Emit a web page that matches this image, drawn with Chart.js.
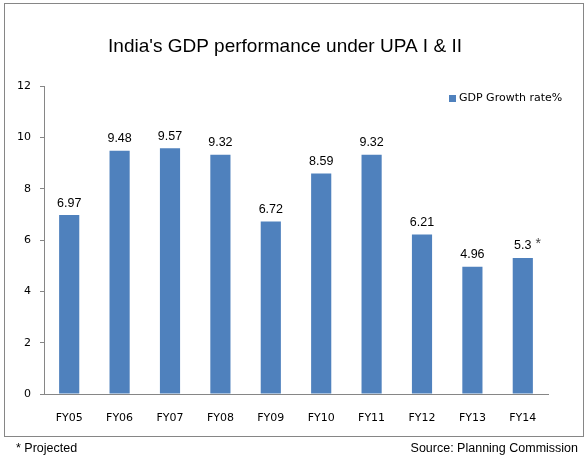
<!DOCTYPE html>
<html>
<head>
<meta charset="utf-8">
<script src="https://cdn.jsdelivr.net/npm/chart.js@4"></script>
<style>
  html, body { margin: 0; padding: 0; background: #fff; }
  #wrap { width: 588px; height: 469px; position: relative; }
</style>
</head>
<body>
<div id="wrap"><canvas id="c" width="588" height="469"></canvas></div>
<script>
const categories = ['FY05', 'FY06', 'FY07', 'FY08', 'FY09', 'FY10', 'FY11', 'FY12', 'FY13', 'FY14'];
const growthRate = [6.97, 9.48, 9.57, 9.32, 6.72, 8.59, 9.32, 6.21, 4.96, 5.3];
const valueNotes = ['', '', '', '', '', '', '', '', '', '*'];
const yTicks = [0, 2, 4, 6, 8, 10, 12];
const seriesLabel = 'GDP Growth rate%';
const titleText = "India's GDP performance under UPA I & II";
const footLeft = '* Projected';
const footRight = 'Source: Planning Commission';

const BAR = '#4F81BD';
const AXIS = '#868686';

const decorPlugin = {
  id: 'decor',
  beforeDraw(chart) {
    const ctx = chart.ctx;
    ctx.save();
    ctx.fillStyle = '#fff';
    ctx.fillRect(0, 0, chart.width, chart.height);
    ctx.strokeStyle = AXIS;
    ctx.lineWidth = 1;
    ctx.strokeRect(4.5, 3.5, 579, 433);
    ctx.restore();
  },
  afterDraw(chart) {
    const ctx = chart.ctx;
    ctx.save();
    // title
    ctx.fillStyle = '#000';
    ctx.font = '19px "Liberation Sans", Arial, sans-serif';
    ctx.textAlign = 'center';
    ctx.textBaseline = 'alphabetic';
    ctx.fillText(titleText, 285, 52);
    // legend
    const ds = chart.data.datasets[0];
    ctx.fillStyle = ds.backgroundColor;
    ctx.fillRect(449, 95, 7, 7);
    ctx.fillStyle = '#000';
    ctx.font = '11px "DejaVu Sans", sans-serif';
    ctx.textAlign = 'left';
    ctx.textBaseline = 'middle';
    ctx.fillText(ds.label, 459, 98.5);
    // footer
    ctx.font = '12.5px "Liberation Sans", Arial, sans-serif';
    ctx.textBaseline = 'middle';
    ctx.textAlign = 'left';
    ctx.fillText(footLeft, 16, 449);
    ctx.textAlign = 'right';
    ctx.fillText(footRight, 578, 449);
    ctx.restore();
  },
  afterDatasetsDraw(chart) {
    const ctx = chart.ctx;
    const meta = chart.getDatasetMeta(0);
    const data = chart.data.datasets[0].data;
    ctx.save();
    ctx.font = '12.5px "Liberation Sans", Arial, sans-serif';
    ctx.textBaseline = 'alphabetic';
    meta.data.forEach((bar, i) => {
      const txt = String(data[i]);
      ctx.fillStyle = '#000';
      ctx.textAlign = 'center';
      const y = bar.y - 8.5;
      ctx.fillText(txt, bar.x, y);
      if (valueNotes[i]) {
        const w = ctx.measureText(txt).width;
        ctx.fillStyle = '#444';
        ctx.textAlign = 'left';
        ctx.font = '14px "Liberation Sans", Arial, sans-serif';
        ctx.fillText(valueNotes[i], bar.x + w / 2 + 4, y - 1);
        ctx.font = '12.5px "Liberation Sans", Arial, sans-serif';
      }
    });
    ctx.restore();
  }
};

new Chart(document.getElementById('c'), {
  type: 'bar',
  data: {
    labels: categories,
    datasets: [{
      label: seriesLabel,
      data: growthRate,
      backgroundColor: BAR,
      borderWidth: 0,
      barPercentage: 0.8,
      categoryPercentage: 0.5
    }]
  },
  options: {
    responsive: false,
    animation: false,
    devicePixelRatio: 1,
    layout: { padding: { left: 4, right: 40, top: 86, bottom: 40 } },
    plugins: {
      legend: { display: false },
      title: { display: false },
      tooltip: { enabled: false }
    },
    scales: {
      x: {
        grid: { display: false },
        border: { display: true, color: AXIS, width: 1 },
        ticks: {
          color: '#000',
          font: { family: '"DejaVu Sans", sans-serif', size: 11 },
          padding: 10,
          maxRotation: 0
        },
        afterFit(scale) { scale.height = 35; }
      },
      y: {
        min: 0,
        max: 12,
        afterBuildTicks(scale) { scale.ticks = yTicks.map(v => ({ value: v })); },
        grid: { display: true, drawOnChartArea: false, drawTicks: true, tickLength: 4, color: AXIS },
        border: { display: true, color: AXIS, width: 1 },
        ticks: {
          color: '#000',
          font: { family: '"DejaVu Sans", sans-serif', size: 11 },
          padding: 9
        },
        afterFit(scale) { scale.width = 40; }
      }
    }
  },
  plugins: [decorPlugin]
});
</script>
</body>
</html>
